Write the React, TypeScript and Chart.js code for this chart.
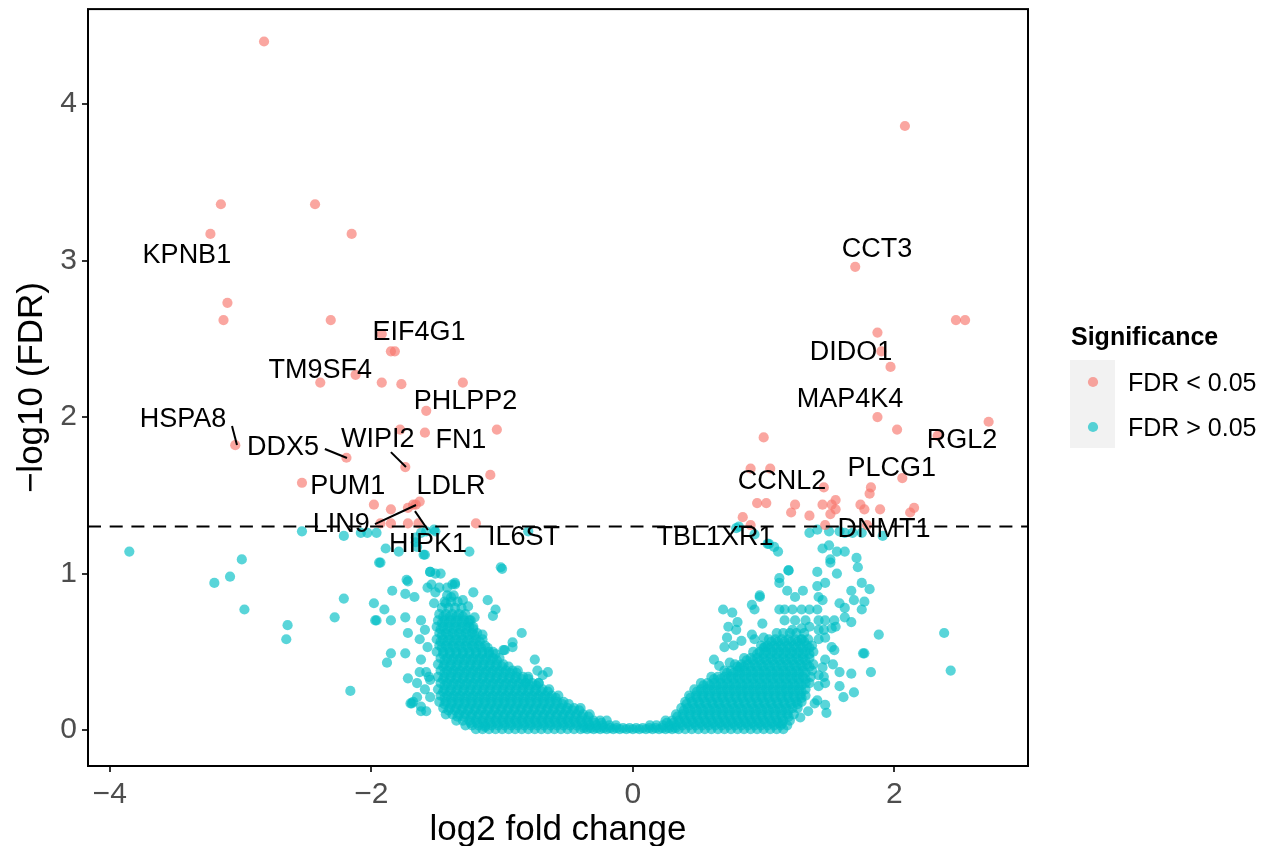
import { useEffect, useRef } from "react";
import { Chart, registerables } from "chart.js";

Chart.register(...registerables);

// ---------- data ----------
const xTicks = [-4, -2, 0, 2];
const yTicks = [0, 1, 2, 3, 4];
const fdrThreshold = 1.301;

// significant genes (FDR < 0.05): [log2FC, -log10 FDR]
const sigPoints: [number, number][] = [
  [-2.82, 4.4], [-3.15, 3.36], [-2.43, 3.36], [-3.23, 3.17], [-2.15, 3.17],
  [-3.1, 2.73], [-3.13, 2.62], [-2.31, 2.62], [-1.92, 2.53], [-1.85, 2.42],
  [-1.82, 2.42], [-2.12, 2.27], [-2.39, 2.22], [-1.92, 2.22], [-1.77, 2.21],
  [-1.3, 2.22], [-1.58, 2.04], [-1.78, 1.92], [-1.59, 1.9], [-1.04, 1.92],
  [-3.04, 1.82], [-2.19, 1.74], [-1.74, 1.68], [-1.09, 1.63], [-2.53, 1.58],
  [-1.98, 1.44], [-1.85, 1.41], [-1.68, 1.44], [-1.63, 1.46], [-1.66, 1.44],
  [-1.72, 1.42], [-1.93, 1.32], [-1.85, 1.32], [-1.72, 1.32], [-1.64, 1.32],
  [-1.2, 1.32],
  [2.08, 3.86], [1.7, 2.96], [2.47, 2.62], [2.54, 2.62], [1.87, 2.54],
  [1.9, 2.42], [1.97, 2.32], [1.87, 2.0], [2.02, 1.92], [2.72, 1.97],
  [2.33, 1.88], [1.0, 1.87], [0.9, 1.67], [1.05, 1.67], [2.06, 1.61],
  [1.46, 1.55], [1.82, 1.55], [1.81, 1.51], [0.95, 1.45], [1.02, 1.45],
  [1.24, 1.44], [1.21, 1.39], [1.35, 1.37], [1.45, 1.44], [1.52, 1.44],
  [1.55, 1.47], [1.55, 1.41], [1.51, 1.38], [1.74, 1.44], [1.77, 1.41],
  [1.89, 1.41], [2.15, 1.42], [2.12, 1.39], [0.84, 1.36], [0.9, 1.31],
  [1.47, 1.31], [1.79, 1.31],
];

// non-significant genes, scattered ones
const tealScatter: [number, number][] = [
  [-3.85, 1.14], [-2.99, 1.09], [-3.08, 0.98], [-3.2, 0.94], [-2.97, 0.77],
  [-2.64, 0.67], [-2.65, 0.58], [-2.53, 1.27], [-2.21, 1.24], [-2.21, 0.84],
  [-2.28, 0.72], [-2.16, 0.25], [-1.98, 0.81], [-1.97, 0.7], [-1.9, 0.77],
  [-1.85, 0.7], [-1.93, 1.07], [-1.89, 1.16], [-1.79, 1.14], [-1.84, 0.89],
  [-1.72, 0.95], [-1.74, 0.87], [-1.74, 0.72], [-1.72, 0.62], [-1.85, 0.49],
  [-1.88, 0.43], [-1.74, 0.49], [-1.72, 0.33], [-1.63, 0.58], [-1.63, 0.37],
  [-1.7, 0.17], [-1.58, 0.12], [-1.66, 1.23], [-1.62, 1.26], [-1.51, 1.27],
  [-1.59, 1.12], [-1.65, 1.17], [-1.55, 1.01], [-1.51, 1.0], [-1.47, 1.0],
  [-1.25, 1.14], [-1.01, 1.04], [-1.22, 0.88], [-1.11, 0.83], [-1.05, 0.77],
  [-1.07, 0.73], [-0.85, 0.62], [-0.92, 0.53], [-0.98, 0.51], [-0.75, 0.45],
  [-0.65, 0.37], [-0.69, 0.35], [-0.73, 0.38], [-0.72, 0.3], [-0.82, 0.3],
  [-1.13, 0.02], [-2.08, 1.26], [-2.03, 1.26], [-1.96, 1.26], [-1.66, 1.2],
  [-1.6, 1.12], [-1.58, 1.27], [-1.52, 1.28], [-0.8, 1.27], [-1.94, 1.07],
  [-1.73, 0.96], [-1.54, 0.93], [-1.48, 0.91], [-1.38, 0.93], [-1.57, 0.91],
  [-1.51, 0.88], [-1.42, 0.91], [-1.36, 0.94], [-1.39, 0.85], [-1.52, 0.81],
  [-1.43, 0.81], [-1.3, 0.83], [-1.26, 0.79], [-1.21, 0.72], [-1.24, 0.7],
  [-1.62, 0.7], [-1.59, 0.64], [-1.57, 0.53], [-1.62, 0.45], [-1.58, 0.37],
  [-1.65, 0.3], [-1.59, 0.26], [-1.68, 0.18], [-1.62, 0.15], [-1.55, 0.32],
  [-1.55, 0.21], [-1.15, 0.61], [-0.99, 0.51], [-0.92, 0.56], [-1.0, 1.03],
  [-1.55, 1.01], [-1.36, 0.93], [-1.67, 0.85], [-1.96, 0.7], [-1.56, 0.34],
  [-1.65, 0.21], [-1.69, 0.17], [-1.62, 0.12],
  [2.38, 0.62], [2.43, 0.38], [1.88, 0.61], [1.77, 0.49], [1.82, 0.37],
  [1.69, 0.24], [1.61, 0.21], [1.58, 0.28], [1.67, 0.36], [1.58, 0.37],
  [1.53, 0.42], [1.67, 0.89], [1.75, 0.94], [1.81, 0.9], [1.77, 0.82],
  [1.75, 0.77], [1.69, 0.83], [1.72, 1.04], [1.71, 1.1], [1.62, 1.14],
  [1.56, 1.14], [1.5, 1.18], [1.45, 1.16], [1.56, 1.0], [1.51, 1.09],
  [1.41, 1.01], [1.47, 0.94], [1.41, 0.92], [1.3, 0.89], [1.18, 0.89],
  [1.19, 1.02], [1.12, 0.97], [1.12, 0.94], [1.03, 1.19], [1.11, 1.14],
  [1.24, 0.85], [1.29, 0.77], [1.42, 0.85], [1.45, 0.83], [1.58, 0.81],
  [1.62, 0.78], [1.62, 0.72], [1.67, 0.69], [0.97, 0.85], [0.91, 0.8],
  [0.93, 0.77], [0.69, 0.77], [0.76, 0.75], [0.8, 0.69], [0.73, 0.66],
  [0.79, 0.64], [0.72, 0.59], [0.7, 0.53], [0.83, 0.57], [0.77, 0.54],
  [0.91, 0.61], [0.93, 0.58], [0.99, 0.68], [1.0, 0.59], [1.01, 0.53],
  [0.62, 0.45], [0.66, 0.41], [0.74, 0.43], [0.82, 0.4],
  [1.12, 0.77], [1.16, 0.77], [1.22, 0.77], [1.35, 0.77], [1.41, 0.77],
  [1.16, 0.7], [1.24, 0.7], [1.32, 0.7], [1.42, 0.7], [1.47, 0.7],
  [1.54, 0.7], [1.55, 0.66], [1.22, 0.64], [1.29, 0.65], [1.35, 0.66],
  [1.42, 0.64], [1.46, 0.64], [1.52, 0.65], [1.29, 0.58], [1.42, 0.58],
  [1.47, 0.59], [1.52, 0.53], [1.54, 0.51], [1.47, 0.45], [1.45, 0.4],
  [1.42, 0.35], [1.46, 0.34], [1.47, 0.3], [1.42, 0.28], [1.41, 0.19],
  [1.39, 0.17], [1.47, 0.16], [1.48, 0.11], [1.34, 0.12], [1.28, 0.08],
  [1.14, 0.04], [1.35, 1.26], [1.41, 1.28], [1.5, 1.27], [1.58, 1.27],
  [1.62, 1.26], [1.68, 1.26], [1.75, 1.26], [1.91, 1.24], [0.81, 1.3],
  [0.79, 1.29], [0.93, 1.25], [1.04, 1.19], [1.08, 1.17], [0.97, 0.86],
  [1.19, 1.02], [1.51, 1.07], [1.76, 0.49],
];

// non-significant genes, dense cloud, one row per -log10 FDR level
const tealRows: [number, number[]][] = [
  [0.005, [-1.2, -1.15, -1.1, -1.05, -1.0, -0.95, -0.9, -0.85, -0.8, -0.75, -0.7, -0.65, -0.6, -0.55, -0.5, -0.45, -0.4, -0.35, -0.3, -0.25, -0.2, -0.15, -0.1, -0.05, 0.0, 0.05, 0.1, 0.15, 0.2, 0.25, 0.3, 0.35, 0.4, 0.45, 0.5, 0.55, 0.6, 0.65, 0.7, 0.75, 0.8, 0.85, 0.9, 0.95, 1.0, 1.05, 1.1, 1.15]],
  [0.012, [-0.375, -0.325, -0.275, -0.225, -0.175, -0.125, -0.075, -0.025, 0.025, 0.075, 0.125, 0.175, 0.225, 0.275, 0.325]],
  [0.03, [-1.28, -1.23, -1.18, -1.13, -1.08, -1.03, -0.98, -0.93, -0.88, -0.83, -0.78, -0.73, -0.68, -0.63, -0.58, -0.53, -0.48, -0.43, -0.38, -0.33, -0.28, -0.23, -0.18, -0.13, 0.13, 0.18, 0.23, 0.28, 0.33, 0.38, 0.43, 0.48, 0.53, 0.58, 0.63, 0.68, 0.73, 0.78, 0.83, 0.88, 0.93, 0.98, 1.03, 1.08, 1.13, 1.18]],
  [0.045, [-1.24, -1.19, -1.14, -1.09, -1.04, -0.99, -0.94, -0.89, -0.84, -0.79, -0.74, -0.69, -0.64, -0.59, -0.54, -0.49, -0.44, -0.39, -0.34, -0.29, -0.24, 0.26, 0.31, 0.36, 0.41, 0.46, 0.51, 0.56, 0.61, 0.66, 0.71, 0.76, 0.81, 0.86, 0.91, 0.96, 1.01, 1.06, 1.11]],
  [0.06, [-1.35, -1.3, -1.25, -1.2, -1.15, -1.1, -1.05, -1.0, -0.95, -0.9, -0.85, -0.8, -0.75, -0.7, -0.65, -0.6, -0.55, -0.5, -0.45, -0.4, -0.35, -0.3, -0.25, -0.2, 0.25, 0.3, 0.35, 0.4, 0.45, 0.5, 0.55, 0.6, 0.65, 0.7, 0.75, 0.8, 0.85, 0.9, 0.95, 1.0, 1.05, 1.1, 1.15, 1.2]],
  [0.085, [-1.34, -1.29, -1.24, -1.19, -1.14, -1.09, -1.04, -0.99, -0.94, -0.89, -0.84, -0.79, -0.74, -0.69, -0.64, -0.59, -0.54, -0.49, -0.44, -0.39, -0.34, 0.34, 0.39, 0.44, 0.49, 0.54, 0.59, 0.64, 0.69, 0.74, 0.79, 0.84, 0.89, 0.94, 0.99, 1.04, 1.09, 1.14, 1.19]],
  [0.1, [-1.43, -1.38, -1.33, -1.28, -1.23, -1.18, -1.13, -1.08, -1.03, -0.98, -0.93, -0.88, -0.83, -0.78, -0.73, -0.68, -0.63, -0.58, -0.53, -0.48, -0.43, -0.38, -0.33, 0.33, 0.38, 0.43, 0.48, 0.53, 0.58, 0.63, 0.68, 0.73, 0.78, 0.83, 0.88, 0.93, 0.98, 1.03, 1.08, 1.13, 1.18, 1.23]],
  [0.125, [-1.41, -1.36, -1.31, -1.26, -1.21, -1.16, -1.11, -1.06, -1.01, -0.96, -0.91, -0.86, -0.81, -0.76, -0.71, -0.66, -0.61, -0.56, -0.51, -0.46, -0.41, 0.39, 0.44, 0.49, 0.54, 0.59, 0.64, 0.69, 0.74, 0.79, 0.84, 0.89, 0.94, 0.99, 1.04, 1.09, 1.14, 1.19]],
  [0.14, [-1.45, -1.4, -1.35, -1.3, -1.25, -1.2, -1.15, -1.1, -1.05, -1.0, -0.95, -0.9, -0.85, -0.8, -0.75, -0.7, -0.65, -0.6, -0.55, -0.5, -0.45, -0.4, 0.37, 0.42, 0.47, 0.52, 0.57, 0.62, 0.67, 0.72, 0.77, 0.82, 0.87, 0.92, 0.97, 1.02, 1.07, 1.12, 1.17, 1.22, 1.26]],
  [0.165, [-1.44, -1.39, -1.34, -1.29, -1.24, -1.19, -1.14, -1.09, -1.04, -0.99, -0.94, -0.89, -0.84, -0.79, -0.74, -0.69, -0.64, -0.59, -0.54, -0.49, 0.41, 0.46, 0.51, 0.56, 0.61, 0.66, 0.71, 0.76, 0.81, 0.86, 0.91, 0.96, 1.01, 1.06, 1.11, 1.16, 1.21, 1.26]],
  [0.18, [-1.48, -1.43, -1.38, -1.33, -1.28, -1.23, -1.18, -1.13, -1.08, -1.03, -0.98, -0.93, -0.88, -0.83, -0.78, -0.73, -0.68, -0.63, -0.58, -0.53, 0.4, 0.45, 0.5, 0.55, 0.6, 0.65, 0.7, 0.75, 0.8, 0.85, 0.9, 0.95, 1.0, 1.05, 1.1, 1.15, 1.2, 1.25, 1.29]],
  [0.205, [-1.44, -1.39, -1.34, -1.29, -1.24, -1.19, -1.14, -1.09, -1.04, -0.99, -0.94, -0.89, -0.84, -0.79, -0.74, -0.69, -0.64, -0.59, 0.44, 0.49, 0.54, 0.59, 0.64, 0.69, 0.74, 0.79, 0.84, 0.89, 0.94, 0.99, 1.04, 1.09, 1.14, 1.19, 1.24, 1.29]],
  [0.22, [-1.47, -1.42, -1.37, -1.32, -1.27, -1.22, -1.17, -1.12, -1.07, -1.02, -0.97, -0.92, -0.87, -0.82, -0.77, -0.72, -0.67, -0.62, -0.57, 0.43, 0.48, 0.53, 0.58, 0.63, 0.68, 0.73, 0.78, 0.83, 0.88, 0.93, 0.98, 1.03, 1.08, 1.13, 1.18, 1.23, 1.28, 1.32]],
  [0.245, [-1.45, -1.4, -1.35, -1.3, -1.25, -1.2, -1.15, -1.1, -1.05, -1.0, -0.95, -0.9, -0.85, -0.8, -0.75, -0.7, -0.65, 0.49, 0.54, 0.59, 0.64, 0.69, 0.74, 0.79, 0.84, 0.89, 0.94, 0.99, 1.04, 1.09, 1.14, 1.19, 1.24, 1.29]],
  [0.26, [-1.49, -1.44, -1.39, -1.34, -1.29, -1.24, -1.19, -1.14, -1.09, -1.04, -0.99, -0.94, -0.89, -0.84, -0.79, -0.74, -0.69, -0.64, 0.47, 0.52, 0.57, 0.62, 0.67, 0.72, 0.77, 0.82, 0.87, 0.92, 0.97, 1.02, 1.07, 1.12, 1.17, 1.22, 1.27, 1.32]],
  [0.285, [-1.44, -1.39, -1.34, -1.29, -1.24, -1.19, -1.14, -1.09, -1.04, -0.99, -0.94, -0.89, -0.84, -0.79, -0.74, 0.54, 0.59, 0.64, 0.69, 0.74, 0.79, 0.84, 0.89, 0.94, 0.99, 1.04, 1.09, 1.14, 1.19, 1.24, 1.29]],
  [0.3, [-1.47, -1.42, -1.37, -1.32, -1.27, -1.22, -1.17, -1.12, -1.07, -1.02, -0.97, -0.92, -0.87, -0.82, -0.77, -0.72, 0.52, 0.57, 0.62, 0.67, 0.72, 0.77, 0.82, 0.87, 0.92, 0.97, 1.02, 1.07, 1.12, 1.17, 1.22, 1.27, 1.32, 1.35]],
  [0.325, [-1.45, -1.4, -1.35, -1.3, -1.25, -1.2, -1.15, -1.1, -1.05, -1.0, -0.95, -0.9, -0.85, -0.8, 0.62, 0.67, 0.72, 0.77, 0.82, 0.87, 0.92, 0.97, 1.02, 1.07, 1.12, 1.17, 1.22, 1.27, 1.32]],
  [0.34, [-1.49, -1.44, -1.39, -1.34, -1.29, -1.24, -1.19, -1.14, -1.09, -1.04, -0.99, -0.94, -0.89, -0.84, -0.8, 0.6, 0.65, 0.7, 0.75, 0.8, 0.85, 0.9, 0.95, 1.0, 1.05, 1.1, 1.15, 1.2, 1.25, 1.3, 1.36]],
  [0.365, [-1.44, -1.39, -1.34, -1.29, -1.24, -1.19, -1.14, -1.09, -1.04, -0.99, -0.94, -0.89, 0.72, 0.77, 0.82, 0.87, 0.92, 0.97, 1.02, 1.07, 1.12, 1.17, 1.22, 1.27, 1.32]],
  [0.38, [-1.47, -1.42, -1.37, -1.32, -1.27, -1.22, -1.17, -1.12, -1.07, -1.02, -0.97, -0.92, -0.88, 0.7, 0.75, 0.8, 0.85, 0.9, 0.95, 1.0, 1.05, 1.1, 1.15, 1.2, 1.25, 1.3, 1.37]],
  [0.405, [-1.45, -1.4, -1.35, -1.3, -1.25, -1.2, -1.15, -1.1, -1.05, -1.0, -0.95, 0.8, 0.85, 0.9, 0.95, 1.0, 1.05, 1.1, 1.15, 1.2, 1.25, 1.3, 1.35]],
  [0.42, [-1.49, -1.44, -1.39, -1.34, -1.29, -1.24, -1.19, -1.14, -1.09, -1.04, -0.99, 0.78, 0.83, 0.88, 0.93, 0.98, 1.03, 1.08, 1.13, 1.18, 1.23, 1.28, 1.33, 1.38]],
  [0.445, [-1.44, -1.39, -1.34, -1.29, -1.24, -1.19, -1.14, -1.09, -1.04, 0.87, 0.92, 0.97, 1.02, 1.07, 1.12, 1.17, 1.22, 1.27, 1.32]],
  [0.46, [-1.47, -1.42, -1.37, -1.32, -1.27, -1.22, -1.17, -1.12, -1.07, -1.02, 0.85, 0.9, 0.95, 1.0, 1.05, 1.1, 1.15, 1.2, 1.25, 1.3, 1.35]],
  [0.485, [-1.45, -1.4, -1.35, -1.3, -1.25, -1.2, -1.15, -1.1, -1.05, 0.95, 1.0, 1.05, 1.1, 1.15, 1.2, 1.25, 1.3, 1.35]],
  [0.5, [-1.5, -1.45, -1.4, -1.35, -1.3, -1.25, -1.2, -1.15, -1.1, -1.07, 0.92, 0.97, 1.02, 1.07, 1.12, 1.17, 1.22, 1.27, 1.32, 1.38]],
  [0.525, [-1.46, -1.41, -1.36, -1.31, -1.26, -1.21, -1.16, -1.11, 1.0, 1.05, 1.1, 1.15, 1.2, 1.25, 1.3, 1.35]],
  [0.54, [-1.48, -1.43, -1.38, -1.33, -1.28, -1.23, -1.18, -1.13, 0.98, 1.03, 1.08, 1.13, 1.18, 1.23, 1.28, 1.33, 1.37]],
  [0.565, [-1.47, -1.42, -1.37, -1.32, -1.27, -1.22, -1.17, 1.06, 1.11, 1.16, 1.21, 1.26, 1.31]],
  [0.58, [-1.5, -1.45, -1.4, -1.35, -1.3, -1.25, -1.2, -1.15, 1.04, 1.09, 1.14, 1.19, 1.24, 1.29, 1.34]],
  [0.605, [-1.46, -1.41, -1.36, -1.31, -1.26, -1.21]],
  [0.62, [-1.48, -1.43, -1.38, -1.33, -1.28, -1.23, -1.19, 1.1, 1.15, 1.2, 1.25, 1.31]],
  [0.645, [-1.47, -1.42, -1.37, -1.32, -1.27, -1.22]],
  [0.66, [-1.5, -1.45, -1.4, -1.35, -1.3, -1.25, -1.22]],
  [0.685, [-1.46, -1.41, -1.36, -1.31, -1.26]],
  [0.7, [-1.49, -1.44, -1.39, -1.34, -1.29, -1.25]],
  [0.725, [-1.45, -1.4, -1.35, -1.3]],
  [0.74, [-1.48, -1.43, -1.38, -1.33, -1.28]],
  [0.78, [-1.46, -1.41, -1.36, -1.31]],
  [0.82, [-1.44, -1.39, -1.34]],
  [0.86, [-1.42, -1.37]],
];

const labelNames = ["KPNB1", "EIF4G1", "TM9SF4", "PHLPP2", "HSPA8", "DDX5", "WIPI2", "FN1", "PUM1", "LDLR", "LIN9", "HIPK1", "IL6ST", "CCT3", "DIDO1", "MAP4K4", "RGL2", "PLCG1", "CCNL2", "TBL1XR1", "DNMT1"];
const labelX = [-3.41, -1.635, -2.39, -1.28, -3.44, -2.675, -1.95, -1.315, -2.18, -1.39, -2.23, -1.567, -0.833, 1.866, 1.667, 1.66, 2.516, 1.98, 1.14, 0.628, 1.92];
const labelY = [3.035, 2.537, 2.294, 2.102, 1.987, 1.802, 1.859, 1.853, 1.559, 1.559, 1.31, 1.188, 1.227, 3.073, 2.415, 2.109, 1.847, 1.668, 1.591, 1.233, 1.278];

// label connector segments: [x1, y1, x2, y2]
const leaderLines: [number, number, number, number][] = [
  [-3.065, 1.943, -3.027, 1.821],
  [-2.355, 1.796, -2.186, 1.738],
  [-1.85, 1.776, -1.735, 1.681],
  [-1.972, 1.316, -1.658, 1.438],
  [-1.666, 1.399, -1.567, 1.278],
];

const legendLabels = ["FDR < 0.05", "FDR > 0.05"];

// ---------- styling ----------
const FONT = '"Liberation Sans", Arial, Helvetica, sans-serif';
const RED = "rgba(248,118,109,0.65)";
const TEAL = "rgba(0,191,196,0.65)";
const R = 5.1;

const W = 1253;
const H = 842;
const SHIFT = 4; // canvas sits 4px above the body margin

export default function App() {
  const ref = useRef<HTMLCanvasElement | null>(null);

  useEffect(() => {
    if (!ref.current) return;
    const sigData = sigPoints.map(([x, y]) => ({ x, y }));
    const tealData = [
      ...tealRows.flatMap(([y, xs]) => xs.map((x) => ({ x, y }))),
      ...tealScatter.map(([x, y]) => ({ x, y })),
    ];

    const overlay = {
      id: "overlay",
      afterDatasetsDraw(chart: any) {
        const { ctx, chartArea: a, scales } = chart;
        const xs = scales.x;
        const ys = scales.y;
        ctx.save();
        const yy = ys.getPixelForValue(fdrThreshold);
        ctx.beginPath();
        ctx.setLineDash([13, 8.7]);
        ctx.lineWidth = 2;
        ctx.strokeStyle = "#000";
        ctx.moveTo(a.left, yy);
        ctx.lineTo(a.right, yy);
        ctx.stroke();
        ctx.setLineDash([]);
        ctx.lineWidth = 2;
        leaderLines.forEach(([x1, y1, x2, y2]) => {
          ctx.beginPath();
          ctx.moveTo(xs.getPixelForValue(x1), ys.getPixelForValue(y1));
          ctx.lineTo(xs.getPixelForValue(x2), ys.getPixelForValue(y2));
          ctx.stroke();
        });
        ctx.font = `27px ${FONT}`;
        ctx.fillStyle = "#000";
        ctx.textAlign = "center";
        ctx.textBaseline = "middle";
        labelNames.forEach((t, i) => {
          ctx.fillText(t, xs.getPixelForValue(labelX[i]), ys.getPixelForValue(labelY[i]));
        });
        ctx.lineWidth = 2;
        ctx.strokeStyle = "#000";
        ctx.strokeRect(a.left, a.top, a.right - a.left, a.bottom - a.top);
        ctx.restore();
      },
      afterDraw(chart: any) {
        const { ctx, chartArea: a } = chart;
        ctx.save();
        ctx.fillStyle = "#000";
        ctx.font = `35px ${FONT}`;
        ctx.textAlign = "center";
        ctx.textBaseline = "alphabetic";
        ctx.fillText("log2 fold change", (a.left + a.right) / 2, 836);
        ctx.save();
        ctx.translate(34, (a.top + a.bottom) / 2);
        ctx.rotate(-Math.PI / 2);
        ctx.fillText("\u2212log10 (FDR)", 0, 0);
        ctx.restore();
        ctx.textAlign = "left";
        ctx.font = `bold 25px ${FONT}`;
        ctx.fillText("Significance", 1063, 341);
        ctx.fillStyle = "#F2F2F2";
        ctx.fillRect(1062, 356, 45, 88);
        const cols = [RED, TEAL];
        const ys = [378, 423];
        ctx.font = `25px ${FONT}`;
        legendLabels.forEach((t, i) => {
          ctx.beginPath();
          ctx.fillStyle = cols[i];
          ctx.arc(1085, ys[i], R, 0, Math.PI * 2);
          ctx.fill();
          ctx.fillStyle = "#000";
          ctx.fillText(t, 1120, ys[i] + 9);
        });
        ctx.restore();
      },
    };

    const minus = (v: any) => String(v).replace("-", "\u2212");

    const chart = new Chart(ref.current, {
      type: "scatter",
      data: {
        datasets: [
          {
            label: legendLabels[0],
            data: sigData,
            backgroundColor: RED,
            borderWidth: 0,
            pointRadius: R,
            pointHoverRadius: R,
            order: 0,
          },
          {
            label: legendLabels[1],
            data: tealData,
            backgroundColor: TEAL,
            borderWidth: 0,
            pointRadius: R,
            pointHoverRadius: R,
            order: 1,
          },
        ],
      },
      options: {
        animation: false,
        responsive: false,
        maintainAspectRatio: false,
        events: [],
        layout: { padding: { top: 1, right: 233, left: 0, bottom: 0 } },
        plugins: { legend: { display: false }, tooltip: { enabled: false } },
        scales: {
          x: {
            type: "linear",
            min: -4.166,
            max: 3.021,
            afterBuildTicks: (s: any) => {
              s.ticks = xTicks.map((v) => ({ value: v }));
            },
            afterFit: (s: any) => {
              s.height = 80;
              s.paddingLeft = 0;
              s.paddingRight = 0;
            },
            grid: { display: true, drawOnChartArea: false, drawTicks: true, tickLength: 6, color: "#333333", lineWidth: 2 },
            border: { display: false },
            ticks: { font: { size: 30, family: FONT }, color: "#4D4D4D", padding: 5, callback: minus, maxRotation: 0 },
          },
          y: {
            type: "linear",
            min: -0.23,
            max: 4.607,
            afterBuildTicks: (s: any) => {
              s.ticks = yTicks.map((v) => ({ value: v }));
            },
            afterFit: (s: any) => {
              s.width = 80;
              s.paddingTop = 0;
              s.paddingBottom = 0;
            },
            grid: { display: true, drawOnChartArea: false, drawTicks: true, tickLength: 6, color: "#333333", lineWidth: 2 },
            border: { display: false },
            ticks: { font: { size: 30, family: FONT }, color: "#4D4D4D", padding: 5, callback: minus },
          },
        },
      },
      plugins: [overlay],
    } as any);
    return () => chart.destroy();
  }, []);

  return (
    <div style={{ width: W, height: H, position: "relative", top: -SHIFT }}>
      <canvas ref={ref} width={W} height={H} style={{ display: "block", width: W, height: H }} />
    </div>
  );
}
